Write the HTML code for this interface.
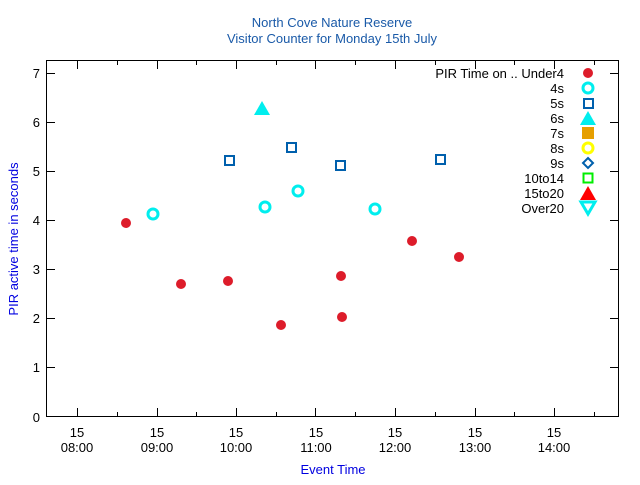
<!DOCTYPE html>
<html><head><meta charset="utf-8"><style>body{margin:0;background:#fff}</style></head><body>
<svg width="640" height="480" xmlns="http://www.w3.org/2000/svg" font-family="Liberation Sans, sans-serif" font-size="13">
<rect width="640" height="480" fill="#fff"/>
<text x="332" y="27" text-anchor="middle" fill="#1a5aa8" font-size="13">North Cove Nature Reserve</text>
<text x="332" y="43" text-anchor="middle" fill="#1a5aa8" font-size="13">Visitor Counter for Monday 15th July</text>
<rect x="46.5" y="60.5" width="572" height="356" fill="none" stroke="#000" stroke-width="1"/>
<g stroke="#000" stroke-width="1">
<path d="M47 73.5h8M47 122.5h8M47 171.5h8M47 220.5h8M47 269.5h8M47 318.5h8M47 367.5h8M618 73.5h-8M618 122.5h-8M618 171.5h-8M618 220.5h-8M618 269.5h-8M618 318.5h-8M618 367.5h-8"/>
<path d="M77.5 416v-8M157.5 416v-8M236.5 416v-8M315.5 416v-8M395.5 416v-8M475.5 416v-8M554.5 416v-8M117.5 416v-4M196.5 416v-4M276.5 416v-4M355.5 416v-4M435.5 416v-4M514.5 416v-4M594.5 416v-4"/>
<path d="M77.5 61v8M157.5 61v8M236.5 61v8M315.5 61v8M395.5 61v8M475.5 61v8M554.5 61v8M117.5 61v4M196.5 61v4M276.5 61v4M355.5 61v4M435.5 61v4M514.5 61v4M594.5 61v4"/>
</g>
<g text-anchor="end" fill="#000">
<text x="40" y="78">7</text><text x="40" y="127">6</text><text x="40" y="176">5</text><text x="40" y="225">4</text><text x="40" y="274">3</text><text x="40" y="323">2</text><text x="40" y="372">1</text><text x="40" y="422">0</text>
</g>
<g text-anchor="middle" fill="#000">
<text x="77" y="437">15</text><text x="77" y="452">08:00</text>
<text x="157" y="437">15</text><text x="157" y="452">09:00</text>
<text x="236" y="437">15</text><text x="236" y="452">10:00</text>
<text x="316" y="437">15</text><text x="316" y="452">11:00</text>
<text x="395" y="437">15</text><text x="395" y="452">12:00</text>
<text x="475" y="437">15</text><text x="475" y="452">13:00</text>
<text x="554" y="437">15</text><text x="554" y="452">14:00</text>
</g>
<text x="333" y="474" text-anchor="middle" fill="#0000e0">Event Time</text>
<text transform="translate(18,239) rotate(-90)" text-anchor="middle" fill="#0000e0">PIR active time in seconds</text>
<g fill="#dd1c2a">
<circle cx="126" cy="223" r="5"/><circle cx="181" cy="284" r="5"/><circle cx="228" cy="281" r="5"/><circle cx="281" cy="325" r="5"/><circle cx="341" cy="276" r="5"/><circle cx="342" cy="317" r="5"/><circle cx="412" cy="241" r="5"/><circle cx="459" cy="257" r="5"/>
</g>
<g fill="none" stroke="#00eeee" stroke-width="3">
<circle cx="153" cy="214" r="5"/><circle cx="265" cy="207" r="5"/><circle cx="298" cy="191" r="5"/><circle cx="375" cy="209" r="5"/>
</g>
<g fill="none" stroke="#0060ad" stroke-width="2">
<rect x="225" y="156" width="9" height="9"/><rect x="287" y="143" width="9" height="9"/><rect x="336" y="161" width="9" height="9"/><rect x="436" y="155" width="9" height="9"/>
</g>
<polygon points="262,101 270,115 254,115" fill="#00eeee"/>
<g text-anchor="end" fill="#000">
<text x="564" y="78">PIR Time on .. Under4</text>
<text x="564" y="93">4s</text><text x="564" y="108">5s</text><text x="564" y="123">6s</text><text x="564" y="138">7s</text><text x="564" y="153">8s</text><text x="564" y="168">9s</text><text x="564" y="183">10to14</text><text x="564" y="198">15to20</text><text x="564" y="213">Over20</text>
</g>
<circle cx="588" cy="73" r="5" fill="#dd1c2a"/>
<circle cx="588" cy="88" r="5" fill="none" stroke="#00eeee" stroke-width="3"/>
<rect x="584" y="99" width="9" height="9" fill="none" stroke="#0060ad" stroke-width="2"/>
<polygon points="588,111 596,125 580,125" fill="#00eeee"/>
<rect x="582" y="127" width="12" height="12" fill="#e69f00"/>
<circle cx="588" cy="148" r="5" fill="none" stroke="#ffff00" stroke-width="3"/>
<polygon points="588,158 593,163 588,168 583,163" fill="none" stroke="#0060ad" stroke-width="2"/>
<rect x="583.5" y="173.5" width="9" height="9" fill="none" stroke="#00ee00" stroke-width="2"/>
<polygon points="588,186 596,200 580,200" fill="#ff0000"/>
<polygon points="581,202 595,202 588,214" fill="none" stroke="#00eeee" stroke-width="3"/>
</svg>
</body></html>
